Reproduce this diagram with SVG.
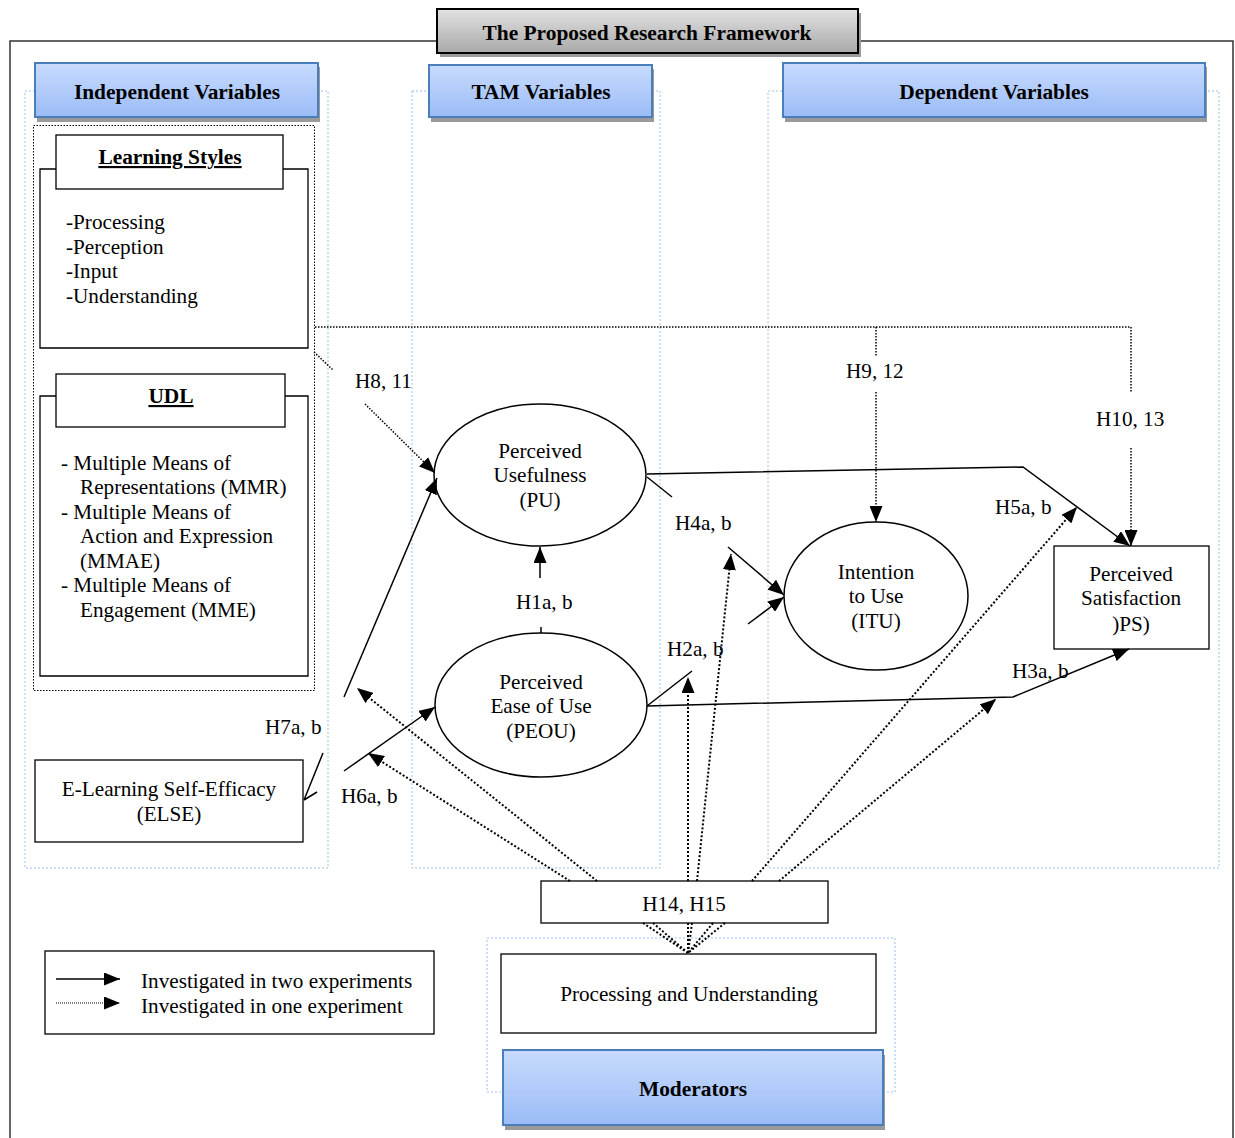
<svg xmlns="http://www.w3.org/2000/svg" width="1235" height="1138" viewBox="0 0 1235 1138">
  <defs>
    <linearGradient id="blueFill" x1="0" y1="0" x2="0" y2="1">
      <stop offset="0" stop-color="#c8dbfd"/>
      <stop offset="1" stop-color="#9bbcf7"/>
    </linearGradient>
    <linearGradient id="grayFill" x1="0" y1="0" x2="0" y2="1">
      <stop offset="0" stop-color="#e2e2e2"/>
      <stop offset="1" stop-color="#a9a9a9"/>
    </linearGradient>
    <marker id="arrow" markerUnits="userSpaceOnUse" markerWidth="16" markerHeight="13" refX="16" refY="6.5" orient="auto">
      <path d="M0,0 L16,6.5 L0,13 z" fill="#000"/>
    </marker>
    <style>
      text { font-family: "Liberation Serif", "Times New Roman", serif; fill: #000; }
      .t { font-size: 21.2px; }
      .c { text-anchor: middle; }
      .hdr { font-size: 21.4px; font-weight: bold; text-anchor: middle; }
      .ul { text-decoration: underline; }
      .box { fill: #fff; stroke: #000; stroke-width: 1.3; }
      .blue { fill: url(#blueFill); stroke: #4a7ebb; stroke-width: 2; }
      .shadow { fill: #9a9a9a; }
      .zone { fill: none; stroke: #9cc0ea; stroke-width: 1; stroke-dasharray: 2 2; }
      .solid { fill: none; stroke: #000; stroke-width: 1.5; }
      .dot { fill: none; stroke: #000; stroke-width: 2; stroke-dasharray: 2 2; }
      .fine { fill: none; stroke: #000; stroke-width: 1.5; stroke-dasharray: 1.5 1.5; }
    </style>
  </defs>

  <rect width="1235" height="1138" fill="#fff"/>

  <!-- outer frame -->
  <path d="M437 41 H10 V1140 M858 41 H1233 V1140" fill="none" stroke="#333" stroke-width="1.5"/>

  <!-- column zones -->
  <rect class="zone" x="25" y="91" width="303" height="777"/>
  <rect class="zone" x="412" y="91" width="248" height="777"/>
  <rect class="zone" x="768" y="91" width="451" height="777"/>
  <rect class="zone" x="487" y="938" width="408" height="154"/>

  <!-- title -->
  <g id="title">
    <rect class="shadow" x="440" y="13" width="421" height="44"/>
    <rect x="437" y="9" width="421" height="44" fill="url(#grayFill)" stroke="#000" stroke-width="2"/>
    <text class="hdr" x="647" y="40">The Proposed Research Framework</text>
  </g>

  <!-- column headers -->
  <g id="hdr-independent">
    <rect class="shadow" x="37" y="67" width="283" height="55"/>
    <rect class="blue" x="35" y="63" width="283" height="54"/>
    <text class="hdr" x="177" y="99">Independent Variables</text>
  </g>
  <g id="hdr-tam">
    <rect class="shadow" x="431" y="69" width="223" height="53"/>
    <rect class="blue" x="429" y="65" width="223" height="52"/>
    <text class="hdr" x="541" y="99">TAM Variables</text>
  </g>
  <g id="hdr-dependent">
    <rect class="shadow" x="785" y="67" width="422" height="55"/>
    <rect class="blue" x="783" y="63" width="422" height="54"/>
    <text class="hdr" x="994" y="99">Dependent Variables</text>
  </g>

  <!-- independent variables group -->
  <rect x="33.5" y="125.5" width="281" height="565" fill="none" stroke="#000" stroke-width="1" stroke-dasharray="1.5 1.5"/>

  <g id="learning-styles">
    <path class="box" d="M56 169 H40 V348 H308 V169 H283"/>
    <rect class="box" x="56" y="135" width="227" height="54"/>
    <text class="hdr ul" x="170" y="164">Learning Styles</text>
    <text class="t" x="66" y="229">-Processing</text>
    <text class="t" x="66" y="254">-Perception</text>
    <text class="t" x="66" y="278">-Input</text>
    <text class="t" x="66" y="303">-Understanding</text>
  </g>

  <g id="udl">
    <path class="box" d="M56 396 H40 V676 H308 V396 H285"/>
    <rect class="box" x="56" y="374" width="229" height="53"/>
    <text class="hdr ul" x="171" y="403">UDL</text>
    <text class="t" x="61" y="470">- Multiple Means of</text>
    <text class="t" x="80" y="494">Representations (MMR)</text>
    <text class="t" x="61" y="519">- Multiple Means of</text>
    <text class="t" x="80" y="543">Action and Expression</text>
    <text class="t" x="80" y="568">(MMAE)</text>
    <text class="t" x="61" y="592">- Multiple Means of</text>
    <text class="t" x="80" y="617">Engagement (MME)</text>
  </g>

  <g id="else">
    <rect class="box" x="35" y="760" width="268" height="82"/>
    <text class="t c" x="169" y="796">E-Learning Self-Efficacy</text>
    <text class="t c" x="169" y="821">(ELSE)</text>
  </g>

  <!-- TAM constructs -->
  <g id="pu">
    <ellipse cx="540" cy="475" rx="106" ry="71" fill="#fff" stroke="#000" stroke-width="1.5"/>
    <text class="t c" x="540" y="458">Perceived</text>
    <text class="t c" x="540" y="482">Usefulness</text>
    <text class="t c" x="540" y="507">(PU)</text>
  </g>
  <g id="peou">
    <ellipse cx="541" cy="705" rx="106" ry="72" fill="#fff" stroke="#000" stroke-width="1.5"/>
    <text class="t c" x="541" y="689">Perceived</text>
    <text class="t c" x="541" y="713">Ease of Use</text>
    <text class="t c" x="541" y="738">(PEOU)</text>
  </g>

  <!-- dependent constructs -->
  <g id="itu">
    <ellipse cx="876" cy="596" rx="92" ry="74" fill="#fff" stroke="#000" stroke-width="1.5"/>
    <text class="t c" x="876" y="579">Intention</text>
    <text class="t c" x="876" y="603">to Use</text>
    <text class="t c" x="876" y="628">(ITU)</text>
  </g>
  <g id="ps">
    <rect class="box" x="1054" y="546" width="155" height="103"/>
    <text class="t c" x="1131" y="581">Perceived</text>
    <text class="t c" x="1131" y="605">Satisfaction</text>
    <text class="t c" x="1131" y="631">)PS)</text>
  </g>

  <!-- moderators -->
  <g id="h14-h15">
    <rect class="box" x="541" y="881" width="287" height="42"/>
    <text class="t c" x="684" y="911">H14, H15</text>
  </g>
  <g id="processing-understanding">
    <rect class="box" x="501" y="954" width="375" height="79"/>
    <text class="t c" x="689" y="1001">Processing and Understanding</text>
  </g>
  <g id="hdr-moderators">
    <rect class="shadow" x="505" y="1055" width="380" height="75"/>
    <rect class="blue" x="503" y="1050" width="380" height="75"/>
    <text class="hdr" x="693" y="1096">Moderators</text>
  </g>

  <!-- legend -->
  <g id="legend">
    <rect class="box" x="45" y="951" width="389" height="83"/>
    <line class="solid" x1="56" y1="979" x2="120" y2="979" marker-end="url(#arrow)"/>
    <line x1="56" y1="1003" x2="120" y2="1003" stroke="#000" stroke-width="1" stroke-dasharray="1 1" marker-end="url(#arrow)"/>
    <text class="t" x="141" y="988">Investigated in two experiments</text>
    <text class="t" x="141" y="1013">Investigated in one experiment</text>
  </g>

  <!-- connectors -->
  <g id="connectors">
    <!-- learning styles to outcomes (one experiment) -->
    <path class="fine" d="M315 327 H1131"/>
    <line class="fine" x1="314" y1="352" x2="333" y2="370" stroke-width="1.1"/>
    <line class="fine" x1="365" y1="404" x2="435" y2="473" stroke-width="1.1" marker-end="url(#arrow)"/>
    <line class="fine" x1="876" y1="327" x2="876" y2="356"/>
    <line class="fine" x1="876" y1="392" x2="876" y2="522" marker-end="url(#arrow)"/>
    <line class="fine" x1="1131" y1="327" x2="1131" y2="392"/>
    <line class="fine" x1="1131" y1="448" x2="1131" y2="546" marker-end="url(#arrow)"/>

    <!-- UDL / ELSE to TAM -->
    <line class="solid" x1="344" y1="697" x2="437" y2="478" marker-end="url(#arrow)"/>
    <line class="solid" x1="344" y1="771" x2="435" y2="707" marker-end="url(#arrow)"/>
    <path class="solid" d="M323 753 L304 800 M317 792 L304 800" stroke-width="1.2"/>

    <!-- PEOU to PU -->
    <line class="solid" x1="541" y1="627" x2="541" y2="633"/>
    <line class="solid" x1="540" y1="578" x2="540" y2="547" marker-end="url(#arrow)"/>

    <!-- PU to ITU and PS -->
    <line class="solid" x1="647" y1="477" x2="672" y2="497"/>
    <line class="solid" x1="728" y1="547" x2="784" y2="595" marker-end="url(#arrow)"/>
    <path class="solid" d="M647 474 L1023 467 L1130 546" marker-end="url(#arrow)"/>

    <!-- PEOU to ITU and PS -->
    <line class="solid" x1="647" y1="706" x2="692" y2="671"/>
    <line class="solid" x1="748" y1="624" x2="784" y2="597" marker-end="url(#arrow)"/>
    <path class="solid" d="M647 706 L1013 697 L1129 649" marker-end="url(#arrow)"/>

    <!-- moderating effects -->
    <line class="dot" x1="570" y1="881" x2="368" y2="753" marker-end="url(#arrow)"/>
    <line class="dot" x1="597" y1="881" x2="357" y2="688" marker-end="url(#arrow)"/>
    <line class="dot" x1="688" y1="881" x2="688" y2="677" marker-end="url(#arrow)"/>
    <line class="dot" x1="697" y1="881" x2="731" y2="554" marker-end="url(#arrow)"/>
    <line class="dot" x1="752" y1="881" x2="1077" y2="507" marker-end="url(#arrow)"/>
    <line class="dot" x1="779" y1="881" x2="996" y2="699" marker-end="url(#arrow)"/>
    <path class="dot" d="M643 923 L688 953 M653 923 L688 953 M688 923 L688 953 M692 923 L688 953 M713 923 L688 953 M725 923 L688 953"/>

    <!-- hypothesis labels -->
    <text class="t" x="355" y="388">H8, 11</text>
    <text class="t" x="846" y="378">H9, 12</text>
    <text class="t" x="1096" y="426">H10, 13</text>
    <text class="t" x="675" y="530">H4a, b</text>
    <text class="t" x="995" y="514">H5a, b</text>
    <text class="t" x="516" y="609">H1a, b</text>
    <text class="t" x="667" y="656">H2a, b</text>
    <text class="t" x="1012" y="678">H3a, b</text>
    <text class="t" x="265" y="734">H7a, b</text>
    <text class="t" x="341" y="803">H6a, b</text>
  </g>
</svg>
